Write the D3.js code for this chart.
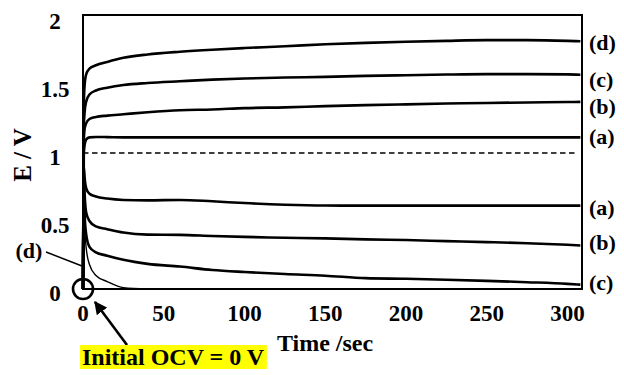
<!DOCTYPE html>
<html>
<head>
<meta charset="utf-8">
<script src="https://cdn.jsdelivr.net/npm/d3@7"></script>
<style>
  body { margin: 0; background: #fff; }
  svg text { font-family: "Liberation Serif", "Times New Roman", serif; font-weight: bold; fill: #000; }
</style>
</head>
<body>
<svg id="chart" width="624" height="375"></svg>
<script>
// sample times (sec)
const times = [0, 0.5, 1, 2, 4, 8, 15, 25, 40, 60, 80, 100, 125, 150, 175, 200, 225, 250, 275, 300, 308]

// upper branch
const upperD = [0, 1.35, 1.5, 1.58, 1.62, 1.645, 1.67, 1.70, 1.725, 1.745, 1.76, 1.772, 1.785, 1.80, 1.81, 1.818, 1.825, 1.83, 1.83, 1.825, 1.822]
const upperC = [0, 1.2, 1.3, 1.38, 1.43, 1.46, 1.48, 1.50, 1.515, 1.528, 1.54, 1.548, 1.555, 1.56, 1.567, 1.572, 1.577, 1.58, 1.58, 1.578, 1.576]
const upperB = [0, 1.1, 1.18, 1.22, 1.25, 1.265, 1.275, 1.285, 1.30, 1.315, 1.32, 1.33, 1.336, 1.345, 1.352, 1.358, 1.364, 1.368, 1.372, 1.375, 1.376]
const upperA = [0, 1.0, 1.06, 1.1, 1.115, 1.118, 1.117, 1.115, 1.115, 1.115, 1.115, 1.115, 1.115, 1.115, 1.115, 1.115, 1.115, 1.115, 1.115, 1.115, 1.115]

// lower branch
const lowerA = [0, 0.9, 0.82, 0.74, 0.70, 0.68, 0.665, 0.655, 0.652, 0.655, 0.645, 0.632, 0.62, 0.614, 0.613, 0.613, 0.613, 0.613, 0.613, 0.613, 0.613]
const lowerB = [0, 0.85, 0.7, 0.56, 0.50, 0.46, 0.44, 0.415, 0.40, 0.398, 0.39, 0.383, 0.377, 0.372, 0.365, 0.36, 0.352, 0.345, 0.337, 0.325, 0.32]
const lowerC = [0, 0.75, 0.55, 0.40, 0.31, 0.27, 0.245, 0.215, 0.185, 0.165, 0.14, 0.125, 0.11, 0.098, 0.08, 0.075, 0.068, 0.06, 0.05, 0.038, 0.032]
const lowerD = [0, 0.6, 0.45, 0.3, 0.18, 0.1, 0.055, 0.01, 0, null, null, null, null, null, null, null, null, null, null, null, null]

const xTicks = [0, 50, 100, 150, 200, 250, 300]
const yTicks = [0, 0.5, 1, 1.5, 2]

// right-hand labels: text and the E value they sit at
const rightLabels = ["(d)", "(c)", "(b)", "(a)", "(a)", "(b)", "(c)"]
const rightLabelE = [1.81, 1.54, 1.34, 1.115, 0.595, 0.34, 0.045]

const series = [upperD, upperC, upperB, upperA, lowerA, lowerB, lowerC]

const svg = d3.select("#chart")

const x = d3.scaleLinear().domain([0, 309]).range([83, 582])
const y = d3.scaleLinear().domain([0, 2.015]).range([289, 15])

// frame
svg.append("rect")
    .attr("x", x(0)).attr("y", y(2.015))
    .attr("width", x(309) - x(0)).attr("height", y(0) - y(2.015))
    .attr("fill", "none").attr("stroke", "#000").attr("stroke-width", 2)

// dashed 1 V line
svg.append("line")
    .attr("x1", x(0)).attr("x2", x(306))
    .attr("y1", y(1)).attr("y2", y(1))
    .attr("stroke", "#000").attr("stroke-width", 1.6)
    .attr("stroke-dasharray", "5.5,3.5")

const line = d3.line()
    .defined(d => d[1] != null)
    .x(d => x(d[0]))
    .y(d => y(d[1]))
    .curve(d3.curveMonotoneX)

series.forEach(s => {
    svg.append("path")
        .datum(times.map((t, i) => [t, s[i]]))
        .attr("d", line)
        .attr("fill", "none").attr("stroke", "#000").attr("stroke-width", 2.6)
})

svg.append("path")
    .datum(times.map((t, i) => [t, lowerD[i]]))
    .attr("d", line)
    .attr("fill", "none").attr("stroke", "#000").attr("stroke-width", 1.4)

// axis labels
svg.selectAll(".xt")
    .data(xTicks)
    .enter().append("text")
    .attr("x", d => x(d))
    .attr("y", 321)
    .attr("text-anchor", "middle")
    .attr("font-size", 23)
    .text(d => d)

svg.selectAll(".yt")
    .data(yTicks)
    .enter().append("text")
    .attr("x", 55)
    .attr("y", d => y(d) + 12)
    .attr("text-anchor", "middle")
    .attr("font-size", 23)
    .text(d => d)

svg.selectAll(".rl")
    .data(rightLabels)
    .enter().append("text")
    .attr("x", 589)
    .attr("y", (d, i) => y(rightLabelE[i]) + 7)
    .attr("font-size", 22)
    .text(d => d)

svg.append("text")
    .attr("x", 325).attr("y", 351)
    .attr("text-anchor", "middle")
    .attr("font-size", 24)
    .text("Time /sec")

svg.append("text")
    .attr("transform", "translate(31,155) rotate(-90)")
    .attr("text-anchor", "middle")
    .attr("font-size", 25)
    .text("E / V")

// (d) annotation for the thin curve
svg.append("text")
    .attr("x", 29).attr("y", 258)
    .attr("text-anchor", "middle")
    .attr("font-size", 22)
    .text("(d)")
svg.append("line")
    .attr("x1", 46).attr("y1", 252).attr("x2", 82).attr("y2", 266)
    .attr("stroke", "#000").attr("stroke-width", 1.5)

// circle at origin
svg.append("circle")
    .attr("cx", x(0)).attr("cy", y(0)).attr("r", 10)
    .attr("fill", "none").attr("stroke", "#000").attr("stroke-width", 2.6)

// arrow
svg.append("defs").append("marker")
    .attr("id", "ah").attr("viewBox", "0 0 10 10")
    .attr("refX", 9).attr("refY", 5)
    .attr("markerWidth", 5).attr("markerHeight", 5)
    .attr("orient", "auto")
    .append("path").attr("d", "M0,0 L10,5 L0,10 Z").attr("fill", "#000")
svg.append("line")
    .attr("x1", 127).attr("y1", 345).attr("x2", 95).attr("y2", 302)
    .attr("stroke", "#000").attr("stroke-width", 2.6)
    .attr("marker-end", "url(#ah)")

// yellow note
const note = svg.append("g")
const noteText = note.append("text")
    .attr("x", 82).attr("y", 365)
    .attr("font-size", 24)
    .text("Initial OCV = 0 V")
const bb = noteText.node().getBBox()
note.insert("rect", "text")
    .attr("x", 80).attr("y", 345)
    .attr("width", bb.width + 4).attr("height", 24)
    .attr("fill", "#ffff00")
</script>
</body>
</html>
